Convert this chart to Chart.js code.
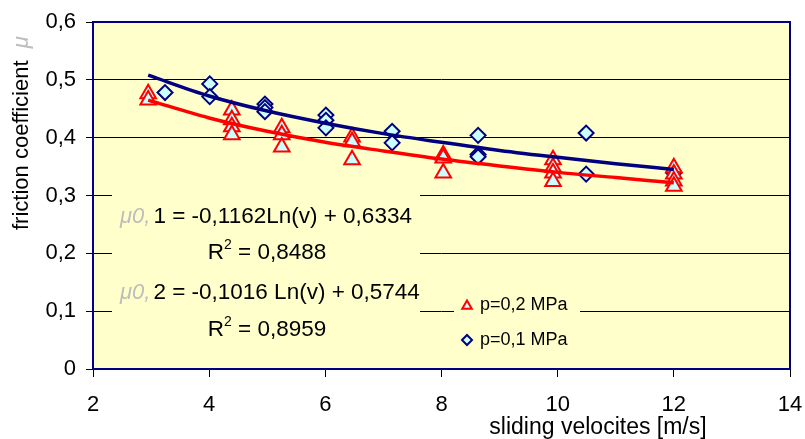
<!DOCTYPE html>
<html>
<head>
<meta charset="utf-8">
<script src="https://cdn.jsdelivr.net/npm/chart.js@4.4.1/dist/chart.umd.min.js"></script>
<style>
  html, body { margin: 0; padding: 0; background: #fff; }
  #wrap { width: 805px; height: 439px; }
</style>
</head>
<body>
<div id="wrap"><canvas id="frictionChart" width="805" height="439"></canvas></div>
<script>
// p = 0,2 MPa (triangles)
const VEL_02 = [2.95, 2.95, 4.39, 4.39, 4.39, 4.39, 5.25, 5.25, 5.25, 6.46, 6.46, 6.46, 8.03, 8.03, 8.03, 9.92, 9.92, 9.92, 9.92, 12, 12, 12, 12];
const MU_02 = [0.476, 0.465, 0.448, 0.431, 0.419, 0.405, 0.417, 0.405, 0.384, 0.401, 0.393, 0.362, 0.370, 0.365, 0.339, 0.362, 0.349, 0.339, 0.324, 0.348, 0.337, 0.325, 0.316];

// p = 0,1 MPa (diamonds)
const VEL_01 = [3.24, 4.01, 4.01, 4.96, 4.96, 4.96, 6.01, 6.01, 6.01, 7.15, 7.15, 8.63, 8.63, 8.63, 10.49, 10.49, 12];
const MU_01 = [0.478, 0.493, 0.471, 0.458, 0.452, 0.445, 0.439, 0.430, 0.417, 0.411, 0.391, 0.404, 0.371, 0.367, 0.408, 0.337, 0.339];

// log trend lines
const TREND_VEL = [2.95, 4, 5, 6, 7, 8, 9, 10, 11, 12];
const TREND_MU_01 = [0.508, 0.472, 0.446, 0.425, 0.407, 0.392, 0.378, 0.366, 0.355, 0.345];
const TREND_MU_02 = [0.465, 0.434, 0.411, 0.392, 0.377, 0.363, 0.351, 0.340, 0.331, 0.322];

const LABEL_02 = 'p=0,2 MPa';
const LABEL_01 = 'p=0,1 MPa';
const EQ_1 = '1 = -0,1162Ln(v) + 0,6334';
const R2_1 = ' = 0,8488';
const EQ_2 = '2 = -0,1016 Ln(v) + 0,5744';
const R2_2 = ' = 0,8959';

const FONT = "'Liberation Sans', Arial, sans-serif";
const PLOT_BG = '#FFFFCC';
const NAVY = '#000080';
const MARKER_FILL = '#CCFFFF';

function toPoints(xs, ys) {
    return xs.map((x, i) => ({ x: x, y: ys[i] }));
}

const decorations = {
    id: 'decorations',
    beforeDraw(chart) {
        const { ctx, chartArea: a } = chart;
        ctx.save();
        ctx.fillStyle = PLOT_BG;
        ctx.fillRect(a.left, a.top, a.right - a.left, a.bottom - a.top);
        ctx.restore();
    },
    beforeDatasetsDraw(chart) {
        const { ctx, chartArea: a } = chart;
        ctx.save();
        // boxes behind equation text and legend
        ctx.fillStyle = PLOT_BG;
        ctx.fillRect(112, 184, 308, 168);
        ctx.fillRect(454, 288, 126, 70);

        // frame
        ctx.strokeStyle = NAVY;
        ctx.lineWidth = 2;
        ctx.strokeRect(a.left, a.top, a.right - a.left, a.bottom - a.top);

        // equations
        ctx.textBaseline = 'middle';
        const eqLine = (x, y, rest) => {
            ctx.font = 'italic 22px ' + FONT;
            ctx.fillStyle = '#bdbdbd';
            ctx.textAlign = 'left';
            ctx.fillText('\u03bc0,', x, y);
            const w = ctx.measureText('\u03bc0,').width + 3;
            ctx.font = '22.5px ' + FONT;
            ctx.fillStyle = '#000';
            ctx.fillText(rest, x + w, y);
        };
        const r2Line = (cx, y, rest) => {
            ctx.font = '22.5px ' + FONT;
            const wR = ctx.measureText('R').width;
            const wRest = ctx.measureText(rest).width;
            ctx.font = '14px ' + FONT;
            const w2 = ctx.measureText('2').width;
            const x0 = cx - (wR + w2 + wRest) / 2;
            ctx.fillStyle = '#000';
            ctx.textAlign = 'left';
            ctx.font = '22.5px ' + FONT;
            ctx.fillText('R', x0, y);
            ctx.font = '14px ' + FONT;
            ctx.fillText('2', x0 + wR, y - 8);
            ctx.font = '22.5px ' + FONT;
            ctx.fillText(rest, x0 + wR + w2, y);
        };
        eqLine(120, 217, EQ_1);
        r2Line(267, 253, R2_1);
        eqLine(120, 293, EQ_2);
        r2Line(267, 330, R2_2);

        // legend
        const ds02 = chart.data.datasets[2];
        const ds01 = chart.data.datasets[3];
        const items = [[ds02, LABEL_02, 305, 5.5], [ds01, LABEL_01, 340, 5]];
        items.forEach(([ds, label, y, r]) => {
            ctx.fillStyle = ds.pointBackgroundColor;
            ctx.strokeStyle = ds.pointBorderColor;
            ctx.lineWidth = 2;
            Chart.helpers.drawPoint(ctx, { pointStyle: ds.pointStyle, radius: r, rotation: 0, borderWidth: 2 }, 467, y + (ds.pointStyle === 'triangle' ? 1 : 0));
            ctx.fillStyle = '#000';
            ctx.font = '18px ' + FONT;
            ctx.textAlign = 'left';
            ctx.fillText(label, 480, y);
        });
        ctx.restore();
    },
    afterDraw(chart) {
        const { ctx } = chart;
        ctx.save();
        ctx.fillStyle = '#000';
        ctx.textBaseline = 'middle';
        // x axis title
        ctx.font = '23px ' + FONT;
        ctx.textAlign = 'center';
        ctx.fillText('sliding velocites [m/s]', 598, 428);
        // y axis title
        ctx.translate(22, 230);
        ctx.rotate(-Math.PI / 2);
        ctx.textAlign = 'left';
        ctx.font = '22px ' + FONT;
        const t = 'friction coefficient ';
        ctx.fillText(t, 0, 0);
        const w = ctx.measureText(t).width + 6;
        ctx.font = 'italic 22px ' + FONT;
        ctx.fillStyle = '#bdbdbd';
        ctx.fillText('\u03bc', w, 0);
        ctx.restore();
    }
};

const config = {
    type: 'scatter',
    data: {
        datasets: [
            {
                label: 'trend 0,2',
                data: toPoints(TREND_VEL, TREND_MU_02),
                showLine: true,
                borderColor: '#FF0000',
                borderWidth: 3.5,
                pointRadius: 0,
                cubicInterpolationMode: 'monotone',
                fill: false
            },
            {
                label: 'trend 0,1',
                data: toPoints(TREND_VEL, TREND_MU_01),
                showLine: true,
                borderColor: NAVY,
                borderWidth: 3.5,
                pointRadius: 0,
                cubicInterpolationMode: 'monotone',
                fill: false
            },
            {
                label: LABEL_02,
                data: toPoints(VEL_02, MU_02),
                pointStyle: 'triangle',
                pointRadius: 9,
                pointBorderWidth: 2,
                pointBorderColor: '#FF0000',
                pointBackgroundColor: MARKER_FILL
            },
            {
                label: LABEL_01,
                data: toPoints(VEL_01, MU_01),
                pointStyle: 'rectRot',
                pointRadius: 7.5,
                pointBorderWidth: 2,
                pointBorderColor: NAVY,
                pointBackgroundColor: MARKER_FILL
            }
        ]
    },
    options: {
        responsive: false,
        animation: false,
        layout: { padding: { top: 22, right: 15, left: 0, bottom: 0 } },
        plugins: {
            legend: { display: false },
            tooltip: { enabled: false },
            title: { display: false }
        },
        scales: {
            x: {
                type: 'linear',
                min: 2,
                max: 14,
                afterFit(scale) {
                    scale.height = 70;
                    scale.paddingLeft = 0;
                    scale.paddingRight = 0;
                },
                ticks: {
                    stepSize: 2,
                    padding: 15,
                    color: '#000',
                    font: { family: FONT, size: 22 },
                    maxRotation: 0
                },
                grid: {
                    drawOnChartArea: false,
                    drawTicks: true,
                    tickLength: 8,
                    tickColor: '#000',
                    tickWidth: 1
                },
                border: { display: false }
            },
            y: {
                min: 0,
                max: 0.6,
                afterFit(scale) {
                    scale.width = 93;
                    scale.paddingTop = 0;
                    scale.paddingBottom = 0;
                },
                ticks: {
                    stepSize: 0.1,
                    padding: 10,
                    color: '#000',
                    font: { family: FONT, size: 22 },
                    callback: (v) => v === 0 ? '0' : v.toFixed(1).replace('.', ',')
                },
                grid: {
                    color: '#000',
                    lineWidth: 1,
                    drawTicks: true,
                    tickLength: 7,
                    tickColor: '#000'
                },
                border: { display: false }
            }
        }
    },
    plugins: [decorations]
};

var frictionChart = new Chart(document.getElementById('frictionChart'), config);
</script>
</body>
</html>
